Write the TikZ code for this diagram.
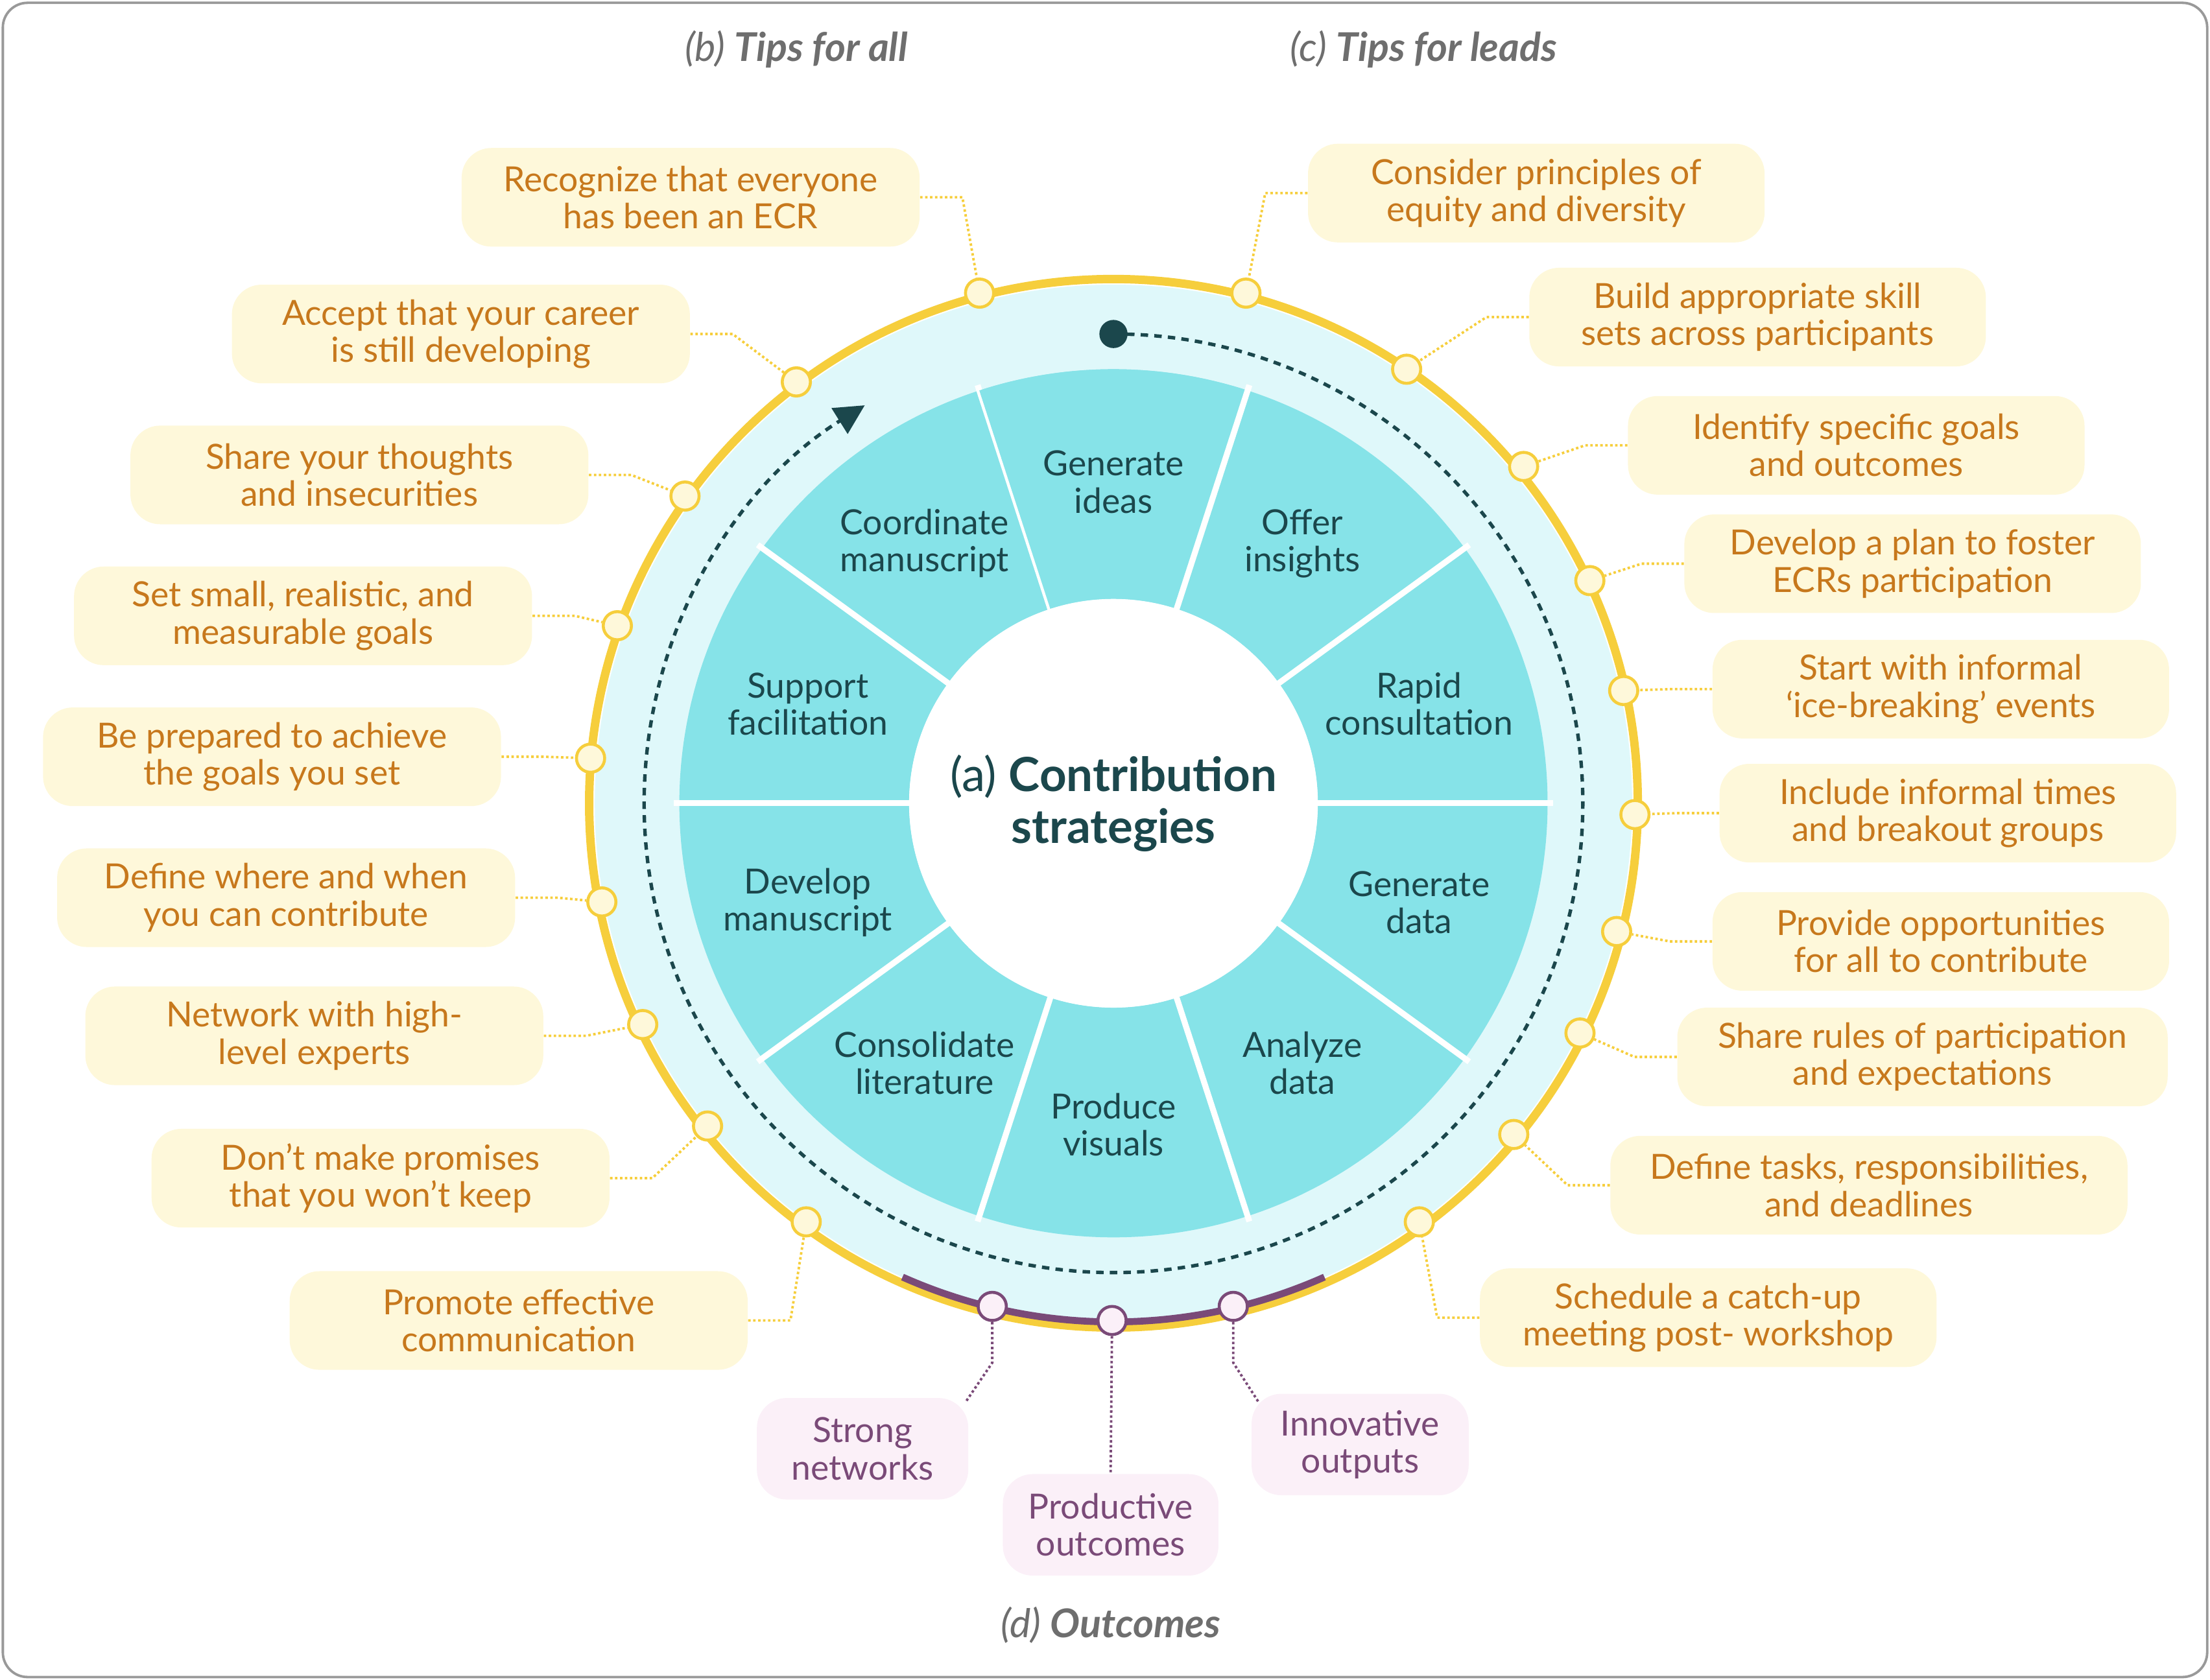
\documentclass[tikz,border=0pt]{standalone}
\usepackage{fontspec}
\setmainfont{Lato}
\usetikzlibrary{arrows.meta,calc}
\definecolor{tipfill}{HTML}{FEF8DA}
\definecolor{tiptext}{HTML}{C7781C}
\definecolor{ringyel}{HTML}{F6CE3C}
\definecolor{segcyan}{HTML}{86E3E8}
\definecolor{ringcyan}{HTML}{DFF8FA}
\definecolor{darkteal}{HTML}{1B474C}
\definecolor{outfill}{HTML}{FBF0F8}
\definecolor{outtext}{HTML}{7A4A78}
\definecolor{headgray}{HTML}{6E6E6E}
\tikzset{
  tipbox/.style={fill=tipfill, rounded corners=12pt, text=tiptext, align=center,
    minimum height=1.4cm, inner sep=2pt, font=\fontsize{14}{15}\selectfont},
  outbox/.style={fill=outfill, rounded corners=12pt, text=outtext, align=center,
    minimum height=1.44cm, inner sep=2pt, font=\fontsize{14}{15}\selectfont},
  tipdot/.style={circle, fill=tipfill, draw=ringyel, line width=1.2pt, minimum size=0.4cm, inner sep=0pt},
  outdot/.style={circle, fill=outfill, draw=outtext, line width=1.2pt, minimum size=0.4cm, inner sep=0pt},
  tiplink/.style={ringyel, line width=1pt, densely dotted},
  outlink/.style={outtext, line width=1pt, densely dotted},
  seglabel/.style={text=darkteal, align=center, font=\fontsize{14}{15}\selectfont},
  heading/.style={text=headgray, font=\fontsize{16}{18}\selectfont\itshape}
}
\begin{document}
\begin{tikzpicture}[x=0.02cm, y=0.02cm]
    \useasboundingbox (0,0) rectangle (1568,-1192);
    \draw[gray!80, line width=1pt, rounded corners=10pt] (2,-2) rectangle (1566,-1190);
    \coordinate (C) at (790,-570);

    % wheel
    \fill[ringcyan] (C) circle (368);
    \draw[ringyel, line width=3.4pt] (C) circle (372);
    \foreach \a in {72,108,...,432} {
        \fill[segcyan] (C) ++(\a:145) arc[start angle=\a, end angle=\a+36, radius=145]
            -- ++(\a+36:163) arc[start angle=\a+36, end angle=\a, radius=308] -- cycle;
        \draw[white, line width=2.4pt] (C) ++(\a:140) -- ++(\a:172);
    }
    \fill[white] (C) circle (145);

    \foreach \a/\txt in {90/Generate\\ideas, 54/Offer\\insights, 18/Rapid\\consultation,
        -18/Generate\\data, -54/Analyze\\data, -90/Produce\\visuals,
        -126/Consolidate\\literature, -162/Develop\\manuscript,
        162/Support\\facilitation, 126/Coordinate\\manuscript}
        \node[seglabel] at ($(C)+(\a:228)$) {\txt};

    \node[text=darkteal, align=center, font=\fontsize{19}{21}\selectfont] (centre) at (C)
        {(a) \textbf{Contribution}\\\textbf{strategies}};

    % cycle arrow
    \node[circle, fill=darkteal, minimum size=0.4cm, inner sep=0pt] (start) at (790,-237) {};
    \draw[darkteal, line width=1.4pt, dash pattern=on 3pt off 2.5pt,
        -{Triangle[length=12pt, width=12pt]}] (start.center) arc[start angle=90, end angle=-238, radius=333];

    % outcomes arc
    \draw[outtext, line width=2.8pt] (C) ++(-114:368) arc[start angle=-114, end angle=-66, radius=368];

    % headings
    \node[heading] (hb) at (565,-35) {(b) \textbf{Tips for all}};
    \node[heading] (hc) at (1010,-35) {(c) \textbf{Tips for leads}};
    \node[heading] (hd) at (788,-1153) {(d) \textbf{Outcomes}};

    % tips for all
    \node[tipbox, minimum width=6.5cm] (b1) at (490,-140) {Recognize that everyone\\has been an ECR};
    \node[tipbox, minimum width=6.5cm] (b2) at (327,-237) {Accept that your career\\is still developing};
    \node[tipbox, minimum width=6.5cm] (b3) at (255,-337) {Share your thoughts\\and insecurities};
    \node[tipbox, minimum width=6.5cm] (b4) at (215,-437) {Set small, realistic, and\\measurable goals};
    \node[tipbox, minimum width=6.5cm] (b5) at (193,-537) {Be prepared to achieve\\the goals you set};
    \node[tipbox, minimum width=6.5cm] (b6) at (203,-637) {Define where and when\\you can contribute};
    \node[tipbox, minimum width=6.5cm] (b7) at (223,-735) {Network with high-\\level experts};
    \node[tipbox, minimum width=6.5cm] (b8) at (270,-836) {Don't make promises\\that you won't keep};
    \node[tipbox, minimum width=6.5cm] (b9) at (368,-937) {Promote effective\\communication};

    \node[tipdot] (db1) at (695,-208) {};
    \node[tipdot] (db2) at (565,-271) {};
    \node[tipdot] (db3) at (486,-352) {};
    \node[tipdot] (db4) at (438,-444) {};
    \node[tipdot] (db5) at (419,-538) {};
    \node[tipdot] (db6) at (427,-640) {};
    \node[tipdot] (db7) at (456,-727) {};
    \node[tipdot] (db8) at (502,-799) {};
    \node[tipdot] (db9) at (572,-867) {};
    \foreach \i in {1,...,9}
        \draw[tiplink] (b\i.east) -- ++(30,0) -- (db\i);

    % tips for leads
    \node[tipbox, minimum width=6.48cm] (c1) at (1090,-137) {Consider principles of\\equity and diversity};
    \node[tipbox, minimum width=6.48cm] (c2) at (1247,-225) {Build appropriate skill\\sets across participants};
    \node[tipbox, minimum width=6.48cm] (c3) at (1317,-316) {Identify specific goals\\and outcomes};
    \node[tipbox, minimum width=6.48cm] (c4) at (1357,-400) {Develop a plan to foster\\ECRs participation};
    \node[tipbox, minimum width=6.48cm] (c5) at (1377,-489) {Start with informal\\‘ice-breaking’ events};
    \node[tipbox, minimum width=6.48cm] (c6) at (1382,-577) {Include informal times\\and breakout groups};
    \node[tipbox, minimum width=6.48cm] (c7) at (1377,-668) {Provide opportunities\\for all to contribute};
    \node[tipbox, minimum width=6.96cm] (c8) at (1364,-750) {Share rules of participation\\and expectations};
    \node[tipbox, minimum width=7.34cm] (c9) at (1326,-841) {Define tasks, responsibilities,\\and deadlines};
    \node[tipbox, minimum width=6.48cm] (c10) at (1212,-935) {Schedule a catch-up\\meeting post- workshop};

    \node[tipdot] (dc1) at (884,-208) {};
    \node[tipdot] (dc2) at (998,-262) {};
    \node[tipdot] (dc3) at (1081,-331) {};
    \node[tipdot] (dc4) at (1128,-412) {};
    \node[tipdot] (dc5) at (1152,-490) {};
    \node[tipdot] (dc6) at (1160,-578) {};
    \node[tipdot] (dc7) at (1147,-661) {};
    \node[tipdot] (dc8) at (1121,-733) {};
    \node[tipdot] (dc9) at (1074,-805) {};
    \node[tipdot] (dc10) at (1007,-867) {};
    \foreach \i in {1,...,10}
        \draw[tiplink] (c\i.west) -- ++(-30,0) -- (dc\i);

    % outcomes
    \node[outbox, minimum width=3cm] (o1) at (612,-1028) {Strong\\networks};
    \node[outbox, minimum width=3.06cm] (o2) at (788,-1082) {Productive\\outcomes};
    \node[outbox, minimum width=3.08cm] (o3) at (965,-1025) {Innovative\\outputs};
    \node[outdot] (do1) at (704,-927) {};
    \node[outdot] (do2) at (789,-937) {};
    \node[outdot] (do3) at (875,-927) {};
    \draw[outlink] (do1) -- ++(0,-40) -- (685,-995);
    \draw[outlink] (do2) -- (o2.north);
    \draw[outlink] (do3) -- ++(0,-40) -- (893,-995);
\end{tikzpicture}
\end{document}
